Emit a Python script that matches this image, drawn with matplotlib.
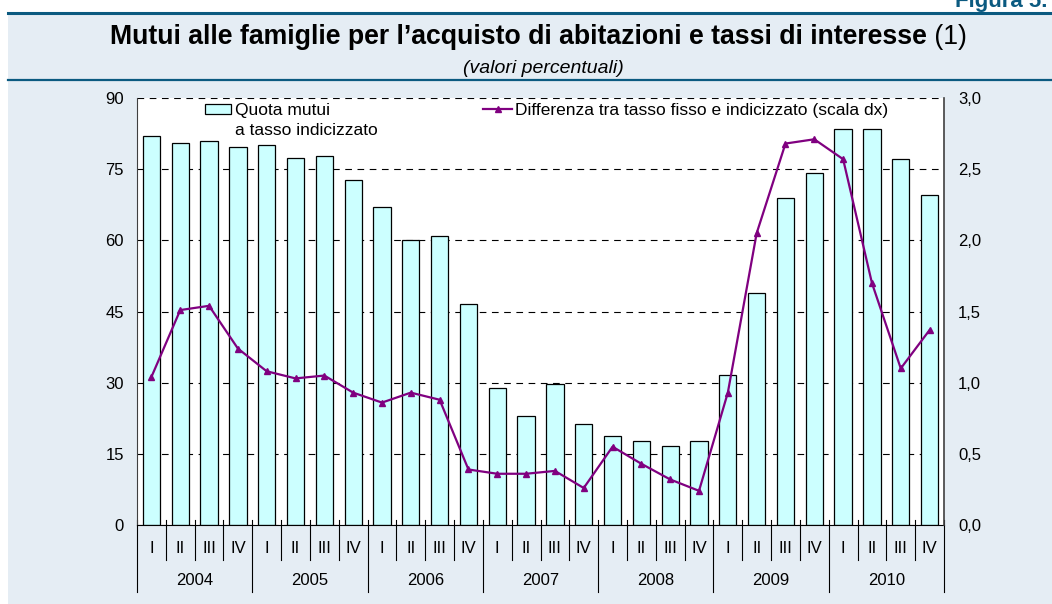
import numpy as np
import matplotlib.pyplot as plt
from matplotlib.patches import Rectangle
from matplotlib.lines import Line2D
from matplotlib.transforms import blended_transform_factory

plt.rcParams['font.family'] = ['Liberation Sans', 'DejaVu Sans']

years = ['2004', '2005', '2006', '2007', '2008', '2009', '2010']
quarters = ['I', 'II', 'III', 'IV']

# quota mutui a tasso indicizzato (%)
quota = [82.0, 80.5, 81.0, 79.7, 80.1, 77.4, 77.8, 72.7,
         67.0, 60.1, 60.9, 46.6, 28.9, 23.0, 29.7, 21.3,
         18.8, 17.7, 16.7, 17.7, 31.6, 48.9, 68.9, 74.2,
         83.5, 83.5, 77.1, 69.6]
# differenza tra tasso fisso e indicizzato (scala dx)
diff = [1.04, 1.51, 1.54, 1.24, 1.08, 1.03, 1.05, 0.93,
        0.86, 0.93, 0.88, 0.39, 0.36, 0.36, 0.38, 0.26,
        0.55, 0.43, 0.32, 0.24, 0.93, 2.05, 2.68, 2.71,
        2.57, 1.70, 1.10, 1.37]

bg = '#e5edf4'
navy = '#0b5a80'
purple = '#800080'

W, H = 1052, 604
fig = plt.figure(figsize=(W / 100, H / 100), dpi=100)
fig.patch.set_facecolor('white')
fig.add_artist(Rectangle((8 / W, 0), 1, 1 - 13 / H, transform=fig.transFigure,
                         facecolor=bg, edgecolor='none', zorder=-10))
fig.add_artist(Line2D([8 / W, 1], [1 - 13 / H] * 2, transform=fig.transFigure,
                      color=navy, lw=2.2))
fig.add_artist(Line2D([8 / W, 1], [1 - 80 / H] * 2, transform=fig.transFigure,
                      color=navy, lw=1.6))

fig.text(955 / W, 1 - 7 / H, 'Figura 5.', color=navy, fontsize=16,
         fontweight='bold', ha='left', va='baseline')

t1 = fig.text(110 / W, 1 - 44 / H,
              'Mutui alle famiglie per l\u2019acquisto di abitazioni e tassi di interesse',
              fontsize=19.2, fontweight='bold', ha='left', va='baseline')
fig.canvas.draw()
bb = t1.get_window_extent().transformed(fig.transFigure.inverted())
fig.text(bb.x1, 1 - 44 / H, ' (1)', fontsize=19.2, ha='left', va='baseline')
fig.text(543 / W, 1 - 73 / H, '(valori percentuali)', fontsize=14,
         style='italic', ha='center', va='baseline')

ax = fig.add_axes([137 / W, 1 - 525 / H, 807 / W, 427 / H])
ax.set_facecolor('white')
x = np.arange(len(quota))
bars = ax.bar(x, quota, width=0.6, color='#ccffff', edgecolor='black', lw=0.9)
ax.set_xlim(-0.5, len(quota) - 0.5)
ax.set_ylim(0, 90)
ax.set_yticks(range(0, 91, 15))
ax.set_xticks([])
ax.yaxis.grid(True, linestyle=(0, (6, 5)), color='black', lw=0.8)
ax.set_axisbelow(True)
ax.tick_params(axis='y', length=0, pad=9.5, labelsize=12)
ax.spines['top'].set_visible(False)
ax.spines['right'].set_visible(False)
ax.spines['left'].set_color('#404040')
ax.spines['bottom'].set_color('black')

ax2 = ax.twinx()
line, = ax2.plot(x, diff, color=purple, lw=1.6, marker='^', markersize=5)
ax2.set_ylim(0, 3)
rticks = np.arange(0, 3.01, 0.5)
ax2.set_yticks(rticks)
ax2.set_yticklabels([('%.1f' % v).replace('.', ',') for v in rticks])
ax2.tick_params(axis='y', length=0, pad=10, labelsize=12)
ax2.spines['top'].set_visible(False)
ax2.spines['left'].set_visible(False)
ax2.spines['bottom'].set_visible(False)
ax2.spines['right'].set_color('#404040')
ax2.spines['right'].set_linewidth(1.2)

# category axis with quarters and years
trans = blended_transform_factory(ax.transData, ax.transAxes)
for k in range(len(quota) + 1):
    b = k - 0.5
    low = -0.157 if k % 4 == 0 else -0.082
    ax.plot([b, b], [0.0117, low], transform=trans, color='black', lw=0.8,
            clip_on=False)
for i in x:
    ax.text(i, -0.054, quarters[i % 4], transform=trans, ha='center',
            va='center', fontsize=12)
for j, yr in enumerate(years):
    ax.text(4 * j + 1.5, -0.131, yr, transform=trans, ha='center',
            va='center', fontsize=12)

leg1 = ax.legend([bars], ['Quota mutui'], loc='upper left',
                 bbox_to_anchor=(0.0843, 0.988), frameon=False, borderpad=0,
                 borderaxespad=0, handlelength=1.5, handleheight=0.55,
                 handletextpad=0.25, fontsize=12.5)
leg2 = ax2.legend([line], ['Differenza tra tasso fisso e indicizzato (scala dx)'],
                  loc='upper left', bbox_to_anchor=(0.4287, 0.988), frameon=False,
                  borderpad=0, borderaxespad=0, handlelength=1.7,
                  handletextpad=0.15, fontsize=12.5)
fig.canvas.draw()
tb = leg1.get_texts()[0].get_window_extent()
ax.annotate('a tasso indicizzato', xy=(tb.x0, tb.y0 - 20), xycoords='figure pixels',
            ha='left', va='bottom', fontsize=12.5)

fig.savefig('out.png', dpi=100, facecolor=fig.get_facecolor())
